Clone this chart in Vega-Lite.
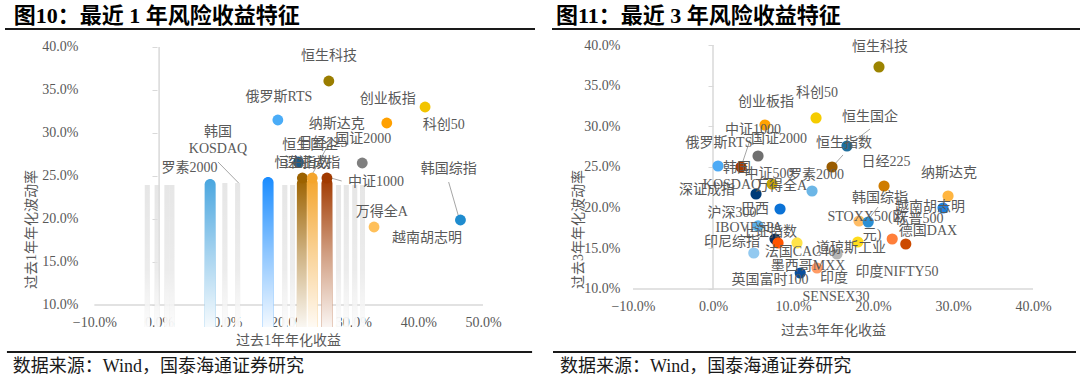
{
  "$schema": "https://vega.github.io/schema/vega-lite/v6.json",
  "padding": 0,
  "background": "white",
  "spacing": 0,
  "bounds": "flush",
  "config": {"view": {"stroke": null}, "font": "Liberation Serif, Noto Sans CJK SC"},
  "resolve": {"scale": {"color": "independent"}},
  "datasets": {
    "p1": [
      {"name": "恒生科技", "x": 0.262, "y": 0.3605},
      {"name": "科创50", "x": 0.4106, "y": 0.3302},
      {"name": "创业板指", "x": 0.3515, "y": 0.3116},
      {"name": "俄罗斯RTS", "x": 0.1833, "y": 0.3151},
      {"name": "国证2000", "x": 0.3136, "y": 0.2651},
      {"name": "恒生国企", "x": 0.2152, "y": 0.2663},
      {"name": "日经225", "x": 0.2212, "y": 0.2477},
      {"name": "纳斯达克", "x": 0.2364, "y": 0.2477},
      {"name": "中证1000", "x": 0.2591, "y": 0.2477},
      {"name": "韩国综指", "x": 0.4652, "y": 0.1988},
      {"name": "越南胡志明", "x": 0.3318, "y": 0.1907}
    ],
    "s1w": [
      {"name": "深证成指", "x": 0.0788, "y": 0.2465},
      {"name": "恒生指数", "x": 0.1682, "y": 0.2488},
      {"name": "日经225", "x": 0.2212, "y": 0.2477},
      {"name": "纳斯达克", "x": 0.2364, "y": 0.2477},
      {"name": "中证1000", "x": 0.2591, "y": 0.2477}
    ],
    "s1t": [
      {"x": -0.0182, "y": 0.2395},
      {"x": -0.003, "y": 0.2395},
      {"x": 0.0121, "y": 0.2395},
      {"x": 0.0197, "y": 0.2395},
      {"x": 0.1015, "y": 0.2419},
      {"x": 0.1212, "y": 0.2419},
      {"x": 0.194, "y": 0.2395},
      {"x": 0.206, "y": 0.2395},
      {"x": 0.277, "y": 0.2395},
      {"x": 0.289, "y": 0.2395},
      {"x": 0.302, "y": 0.2395},
      {"x": 0.314, "y": 0.2395}
    ],
    "l1": [
      {"text": "恒生科技", "x": 0.2621, "y": 0.3895},
      {"text": "俄罗斯RTS", "x": 0.1848, "y": 0.3419},
      {"text": "创业板指", "x": 0.353, "y": 0.3395},
      {"text": "科创50", "x": 0.4394, "y": 0.3093},
      {"text": "纳斯达克", "x": 0.2742, "y": 0.3105},
      {"text": "国证2000", "x": 0.3152, "y": 0.293},
      {"text": "韩国", "x": 0.0909, "y": 0.3012},
      {"text": "KOSDAQ", "x": 0.0909, "y": 0.2814},
      {"text": "恒生国企", "x": 0.2333, "y": 0.286},
      {"text": "日经225", "x": 0.253, "y": 0.2884},
      {"text": "罗素2000", "x": 0.047, "y": 0.2593},
      {"text": "恒生指数", "x": 0.2212, "y": 0.2651},
      {"text": "深证成指", "x": 0.2364, "y": 0.2651},
      {"text": "中证1000", "x": 0.3348, "y": 0.243},
      {"text": "韩国综指", "x": 0.447, "y": 0.2581},
      {"text": "万得全A", "x": 0.3439, "y": 0.2081},
      {"text": "越南胡志明", "x": 0.4136, "y": 0.1779}
    ],
    "d1": [
      {"x": 0.0909, "y": 0.2663, "x2": 0.1227, "y2": 0.2419},
      {"x": 0.2652, "y": 0.2919, "x2": 0.2333, "y2": 0.2477},
      {"x": 0.2818, "y": 0.2442, "x2": 0.2652, "y2": 0.2477},
      {"x": 0.447, "y": 0.243, "x2": 0.4621, "y2": 0.2035}
    ],
    "p3": [
      {"name": "恒生科技", "x": 0.2075, "y": 0.373},
      {"name": "科创50", "x": 0.1288, "y": 0.3103},
      {"name": "创业板指", "x": 0.065, "y": 0.3016},
      {"name": "恒生国企", "x": 0.1675, "y": 0.2758},
      {"name": "中证1000", "x": 0.035, "y": 0.25},
      {"name": "国证2000", "x": 0.0563, "y": 0.2635},
      {"name": "俄罗斯RTS", "x": 0.0063, "y": 0.2512},
      {"name": "恒生指数", "x": 0.1488, "y": 0.25},
      {"name": "日经225", "x": 0.2138, "y": 0.2266},
      {"name": "纳斯达克", "x": 0.2938, "y": 0.2143},
      {"name": "罗素2000", "x": 0.1238, "y": 0.2205},
      {"name": "中证500", "x": 0.0738, "y": 0.2291},
      {"name": "深证成指", "x": 0.0538, "y": 0.2168},
      {"name": "巴西IBOVESPA", "x": 0.0838, "y": 0.1984},
      {"name": "沪深300", "x": 0.0563, "y": 0.1775},
      {"name": "上证指数", "x": 0.0775, "y": 0.1615},
      {"name": "万得全A", "x": 0.0813, "y": 0.1566},
      {"name": "法国CAC40", "x": 0.105, "y": 0.1566},
      {"name": "印尼综指", "x": 0.051, "y": 0.1443},
      {"name": "英国富时100", "x": 0.109, "y": 0.1197},
      {"name": "墨西哥MXX", "x": 0.13, "y": 0.1258},
      {"name": "印度SENSEX30", "x": 0.155, "y": 0.143},
      {"name": "道琼斯工业", "x": 0.181, "y": 0.1578},
      {"name": "STOXX50(欧元)", "x": 0.1825, "y": 0.1836},
      {"name": "韩国综指", "x": 0.194, "y": 0.1824},
      {"name": "印度NIFTY50", "x": 0.224, "y": 0.1615},
      {"name": "德国DAX", "x": 0.241, "y": 0.1553},
      {"name": "越南胡志明", "x": 0.2875, "y": 0.1996}
    ],
    "l3": [
      {"text": "恒生科技", "x": 0.2088, "y": 0.3976},
      {"text": "科创50", "x": 0.13, "y": 0.341},
      {"text": "创业板指", "x": 0.0663, "y": 0.3299},
      {"text": "恒生国企", "x": 0.1963, "y": 0.3115},
      {"text": "中证1000", "x": 0.05, "y": 0.2955},
      {"text": "国证2000", "x": 0.0825, "y": 0.2844},
      {"text": "俄罗斯RTS", "x": 0.0075, "y": 0.2795},
      {"text": "恒生指数", "x": 0.1638, "y": 0.2795},
      {"text": "日经225", "x": 0.2163, "y": 0.2562},
      {"text": "韩国", "x": 0.03, "y": 0.2488},
      {"text": "纳斯达克", "x": 0.295, "y": 0.2426},
      {"text": "中证500", "x": 0.07, "y": 0.2414},
      {"text": "罗素2000", "x": 0.1288, "y": 0.2402},
      {"text": "KOSDAQ", "x": 0.0238, "y": 0.2279},
      {"text": "万得全A", "x": 0.085, "y": 0.2266},
      {"text": "深证成指", "x": -0.0075, "y": 0.2217},
      {"text": "韩国综指", "x": 0.2088, "y": 0.2119},
      {"text": "越南胡志明", "x": 0.2713, "y": 0.2008},
      {"text": "巴西", "x": 0.0525, "y": 0.1984},
      {"text": "沪深300", "x": 0.0238, "y": 0.1934},
      {"text": "STOXX50(欧", "x": 0.1925, "y": 0.1885},
      {"text": "标普500", "x": 0.2575, "y": 0.1861},
      {"text": "元)", "x": 0.1988, "y": 0.1664},
      {"text": "IBOVESPA", "x": 0.045, "y": 0.175},
      {"text": "德国DAX", "x": 0.2688, "y": 0.1713},
      {"text": "上证指数", "x": 0.07, "y": 0.1701},
      {"text": "印尼综指", "x": 0.0238, "y": 0.1578},
      {"text": "道琼斯工业", "x": 0.1725, "y": 0.1504},
      {"text": "法国CAC40", "x": 0.1088, "y": 0.1455},
      {"text": "墨西哥MXX", "x": 0.1188, "y": 0.1283},
      {"text": "印度NIFTY50", "x": 0.23, "y": 0.1209},
      {"text": "印度", "x": 0.1513, "y": 0.1135},
      {"text": "英国富时100", "x": 0.0713, "y": 0.1111},
      {"text": "SENSEX30", "x": 0.1538, "y": 0.0902}
    ],
    "d3": [
      {"x": 0.0463, "y": 0.2832, "x2": 0.0363, "y2": 0.2537},
      {"x": 0.1963, "y": 0.2967, "x2": 0.17, "y2": 0.2771},
      {"x": 0.1625, "y": 0.2648, "x2": 0.15, "y2": 0.2512},
      {"x": 0.2063, "y": 0.2008, "x2": 0.1938, "y2": 0.1848}
    ]
  },
  "hconcat": [
    {
      "width": 540,
      "height": 386,
      "layer": [
        {
          "data": {"values": [{}]},
          "mark": {"type": "rule", "color": "#d9d9d9", "strokeWidth": 1.5},
          "encoding": {
            "x": {"datum": 0, "type": "quantitative",
              "scale": {"domain": [-0.2379, 0.5803], "nice": false, "zero": false},
              "axis": {"orient": "bottom", "offset": -81, "values": [-0.1, 0, 0.1, 0.2, 0.3, 0.4, 0.5], "format": ".1%", "domain": false, "ticks": false, "tickSize": 0, "grid": false, "labelPadding": 10, "labelFontSize": 14, "labelColor": "#595959", "labelFont": "Liberation Serif", "title": "过去1年年化收益", "titleX": 288, "titleY": 35, "titleBaseline": "middle", "titleAlign": "center", "titleFontSize": 14, "titleFontWeight": "normal", "titleColor": "#595959"}},
            "y": {"datum": 0.1, "type": "quantitative",
              "scale": {"domain": [0.00581, 0.45465], "nice": false, "zero": false},
              "axis": {"orient": "left", "offset": -157, "values": [0.1, 0.15, 0.2, 0.25, 0.3, 0.35, 0.4], "format": ".1%", "domain": false, "ticks": true, "tickSize": 5, "tickColor": "#d9d9d9", "grid": false, "labelPadding": 74, "labelFontSize": 14, "labelColor": "#595959", "labelFont": "Liberation Serif", "title": "过去1年年化波动率", "titleX": -126, "titleY": 229, "titleAngle": -90, "titleBaseline": "middle", "titleAlign": "center", "titleFontSize": 14, "titleFontWeight": "normal", "titleColor": "#595959"}},
            "y2": {"datum": 0.4}
          }
        },
        {
          "data": {"values": [{}]},
          "mark": {"type": "rule", "color": "#d9d9d9", "strokeWidth": 1.5},
          "encoding": {
            "x": {"datum": -0.1, "type": "quantitative"},
            "x2": {"datum": 0.5},
            "y": {"datum": 0.1, "type": "quantitative"}
          }
        },
        {
          "data": {"name": "s1t"},
          "mark": {"type": "bar", "width": 5, "color": "#cbcbcb", "opacity": 0.6},
          "encoding": {
            "x": {"field": "x", "type": "quantitative"},
            "y": {"field": "y", "type": "quantitative"},
            "y2": {"datum": 0.0744}
          }
        },
        {
          "data": {"name": "s1t"},
          "mark": {"type": "bar", "width": 5, "fill": {"gradient": "linear", "x1": 0, "y1": 0, "x2": 0, "y2": 1, "stops": [{"offset": 0, "color": "rgba(255,255,255,0.2)"}, {"offset": 0.6, "color": "rgba(255,255,255,0.4)"}, {"offset": 1, "color": "rgba(255,255,255,0.9)"}]}},
          "encoding": {
            "x": {"field": "x", "type": "quantitative"},
            "y": {"field": "y", "type": "quantitative"},
            "y2": {"datum": 0.0744}
          }
        },
        {
          "data": {"name": "s1w"},
          "mark": {"type": "bar", "width": 11, "cornerRadiusTopLeft": 5.5, "cornerRadiusTopRight": 5.5},
          "encoding": {
            "x": {"field": "x", "type": "quantitative"},
            "y": {"field": "y", "type": "quantitative"},
            "y2": {"datum": 0.0744},
            "color": {"field": "name", "type": "nominal", "legend": null}
          }
        },
        {
          "data": {"name": "s1w"},
          "mark": {"type": "bar", "width": 11, "cornerRadiusTopLeft": 5.5, "cornerRadiusTopRight": 5.5, "fill": {"gradient": "linear", "x1": 0, "y1": 0, "x2": 0, "y2": 1, "stops": [{"offset": 0, "color": "rgba(255,255,255,0)"}, {"offset": 0.5, "color": "rgba(255,255,255,0.5)"}, {"offset": 1, "color": "rgba(255,255,255,0.95)"}]}},
          "encoding": {
            "x": {"field": "x", "type": "quantitative"},
            "y": {"field": "y", "type": "quantitative"},
            "y2": {"datum": 0.0744}
          }
        },
        {
          "data": {"name": "d1"},
          "mark": {"type": "rule", "color": "#a6a6a6", "strokeWidth": 1},
          "encoding": {
            "x": {"field": "x", "type": "quantitative"},
            "y": {"field": "y", "type": "quantitative"},
            "x2": {"field": "x2"},
            "y2": {"field": "y2"}
          }
        },
        {
          "data": {"name": "p1"},
          "mark": {"type": "circle", "size": 118, "opacity": 1},
          "encoding": {
            "x": {"field": "x", "type": "quantitative"},
            "y": {"field": "y", "type": "quantitative"},
            "color": {"field": "name", "type": "nominal", "legend": null,
              "scale": {
                "domain": ["恒生科技", "科创50", "创业板指", "俄罗斯RTS", "国证2000", "恒生国企", "日经225", "纳斯达克", "中证1000", "韩国综指", "越南胡志明", "深证成指", "恒生指数"],
                "range": ["#9a7d00", "#f2c400", "#ffa000", "#4aacf7", "#7f7f7f", "#1d5c88", "#9c6200", "#f4a52c", "#a13a00", "#1f8ccf", "#ffc05a", "#4aa6df", "#1a8cff"]
              }}
          }
        },
        {
          "data": {"name": "l1"},
          "mark": {"type": "text", "fontSize": 14, "color": "#595959", "align": "center", "baseline": "middle", "font": "Liberation Serif, Noto Sans CJK SC"},
          "encoding": {
            "x": {"field": "x", "type": "quantitative"},
            "y": {"field": "y", "type": "quantitative"},
            "text": {"field": "text"}
          }
        },
        {
          "data": {"values": [{}]},
          "mark": {"type": "text", "text": "图10：最近 1 年风险收益特征", "align": "left", "baseline": "middle", "fontSize": 22, "fontWeight": "bold", "color": "#000000", "font": "Liberation Serif, Noto Sans CJK SC"},
          "encoding": {
            "x": {"datum": -0.2243, "type": "quantitative"},
            "y": {"datum": 0.43605, "type": "quantitative"}
          }
        },
        {
          "data": {"values": [{}]},
          "mark": {"type": "rule", "color": "#1a1a1a", "strokeWidth": 2},
          "encoding": {
            "x": {"datum": -0.2379, "type": "quantitative"},
            "x2": {"datum": 0.5803},
            "y": {"datum": 0.42093, "type": "quantitative"}
          }
        },
        {
          "data": {"values": [{}]},
          "mark": {"type": "rule", "color": "#1a1a1a", "strokeWidth": 2},
          "encoding": {
            "x": {"datum": -0.2349, "type": "quantitative"},
            "x2": {"datum": 0.5758},
            "y": {"datum": 0.04535, "type": "quantitative"}
          }
        },
        {
          "data": {"values": [{}]},
          "mark": {"type": "text", "text": "数据来源：Wind，国泰海通证券研究", "align": "left", "baseline": "middle", "fontSize": 18, "color": "#1a1a1a", "font": "Liberation Serif, Noto Sans CJK SC"},
          "encoding": {
            "x": {"datum": -0.2258, "type": "quantitative"},
            "y": {"datum": 0.02791, "type": "quantitative"}
          }
        }
      ]
    },
    {
      "width": 540,
      "height": 386,
      "layer": [
        {
          "data": {"values": [{}]},
          "mark": {"type": "rule", "color": "#d9d9d9", "strokeWidth": 1.5},
          "encoding": {
            "x": {"datum": 0, "type": "quantitative",
              "scale": {"domain": [-0.21625, 0.45875], "nice": false, "zero": false},
              "axis": {"orient": "bottom", "offset": -97, "values": [-0.1, 0, 0.1, 0.2, 0.3, 0.4], "format": ".1%", "domain": false, "ticks": false, "tickSize": 0, "grid": false, "labelPadding": 10, "labelFontSize": 14, "labelColor": "#595959", "labelFont": "Liberation Serif", "title": "过去3年年化收益", "titleX": 293, "titleY": 41, "titleBaseline": "middle", "titleAlign": "center", "titleFontSize": 14, "titleFontWeight": "normal", "titleColor": "#595959"}},
            "y": {"datum": 0.1, "type": "quantitative",
              "scale": {"domain": [-0.01927, 0.45533], "nice": false, "zero": false},
              "axis": {"orient": "left", "offset": -173, "values": [0.1, 0.15, 0.2, 0.25, 0.3, 0.35, 0.4], "format": ".1%", "domain": false, "ticks": true, "tickSize": 5, "tickColor": "#d9d9d9", "grid": false, "labelPadding": 88, "labelFontSize": 14, "labelColor": "#595959", "labelFont": "Liberation Serif", "title": "过去3年年化波动率", "titleX": -135, "titleY": 229, "titleAngle": -90, "titleBaseline": "middle", "titleAlign": "center", "titleFontSize": 14, "titleFontWeight": "normal", "titleColor": "#595959"}},
            "y2": {"datum": 0.4}
          }
        },
        {
          "data": {"values": [{}]},
          "mark": {"type": "rule", "color": "#d9d9d9", "strokeWidth": 1.5},
          "encoding": {
            "x": {"datum": -0.1, "type": "quantitative"},
            "x2": {"datum": 0.4},
            "y": {"datum": 0.1, "type": "quantitative"}
          }
        },
        {
          "data": {"name": "d3"},
          "mark": {"type": "rule", "color": "#a6a6a6", "strokeWidth": 1},
          "encoding": {
            "x": {"field": "x", "type": "quantitative"},
            "y": {"field": "y", "type": "quantitative"},
            "x2": {"field": "x2"},
            "y2": {"field": "y2"}
          }
        },
        {
          "data": {"name": "p3"},
          "mark": {"type": "circle", "size": 125, "opacity": 1},
          "encoding": {
            "x": {"field": "x", "type": "quantitative"},
            "y": {"field": "y", "type": "quantitative"},
            "color": {"field": "name", "type": "nominal", "legend": null,
              "scale": {
                "domain": ["恒生科技", "科创50", "创业板指", "恒生国企", "中证1000", "国证2000", "俄罗斯RTS", "恒生指数", "日经225", "纳斯达克", "罗素2000", "中证500", "深证成指", "巴西IBOVESPA", "沪深300", "上证指数", "万得全A", "法国CAC40", "印尼综指", "英国富时100", "墨西哥MXX", "印度SENSEX30", "道琼斯工业", "STOXX50(欧元)", "韩国综指", "印度NIFTY50", "德国DAX", "越南胡志明"],
                "range": ["#9c8400", "#f5cc00", "#ffa200", "#1f6e9c", "#a63c00", "#6f6f6f", "#4daaf5", "#9a5c00", "#cf7c00", "#ffb540", "#6cb6e6", "#c8a600", "#003c78", "#0b72d6", "#5ab0e8", "#0c2e5c", "#ff5500", "#ffe34a", "#92c9f0", "#0a4e9b", "#ff9c66", "#b5b5b5", "#ffdc1e", "#ffbd66", "#2b8fd4", "#ff7f3a", "#cc4a00", "#1e80e0"]
              }}
          }
        },
        {
          "data": {"name": "l3"},
          "mark": {"type": "text", "fontSize": 14, "color": "#595959", "align": "center", "baseline": "middle", "font": "Liberation Serif, Noto Sans CJK SC"},
          "encoding": {
            "x": {"field": "x", "type": "quantitative"},
            "y": {"field": "y", "type": "quantitative"},
            "text": {"field": "text"}
          }
        },
        {
          "data": {"values": [{}]},
          "mark": {"type": "text", "text": "图11：最近 3 年风险收益特征", "align": "left", "baseline": "middle", "fontSize": 22, "fontWeight": "bold", "color": "#000000", "font": "Liberation Serif, Noto Sans CJK SC"},
          "encoding": {
            "x": {"datum": -0.19625, "type": "quantitative"},
            "y": {"datum": 0.43566, "type": "quantitative"}
          }
        },
        {
          "data": {"values": [{}]},
          "mark": {"type": "rule", "color": "#1a1a1a", "strokeWidth": 2},
          "encoding": {
            "x": {"datum": -0.20125, "type": "quantitative"},
            "x2": {"datum": 0.45875},
            "y": {"datum": 0.41967, "type": "quantitative"}
          }
        },
        {
          "data": {"values": [{}]},
          "mark": {"type": "rule", "color": "#1a1a1a", "strokeWidth": 2},
          "encoding": {
            "x": {"datum": -0.2, "type": "quantitative"},
            "x2": {"datum": 0.45375},
            "y": {"datum": 0.02253, "type": "quantitative"}
          }
        },
        {
          "data": {"values": [{}]},
          "mark": {"type": "text", "text": "数据来源：Wind，国泰海通证券研究", "align": "left", "baseline": "middle", "fontSize": 18, "color": "#1a1a1a", "font": "Liberation Serif, Noto Sans CJK SC"},
          "encoding": {
            "x": {"datum": -0.19125, "type": "quantitative"},
            "y": {"datum": 0.00408, "type": "quantitative"}
          }
        }
      ]
    }
  ]
}
